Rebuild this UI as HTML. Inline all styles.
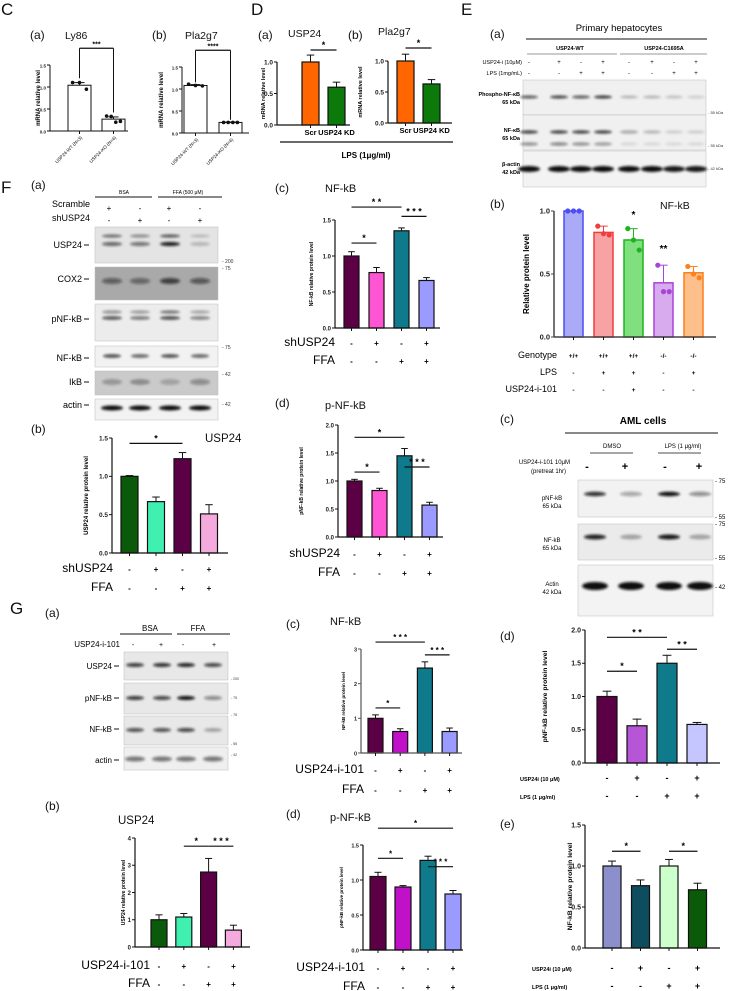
<!DOCTYPE html>
<html><head><meta charset="utf-8"><style>
html,body{margin:0;padding:0;background:#fff;}
svg{display:block;font-family:"Liberation Sans",sans-serif;}
</style></head><body>
<svg id="fig" width="732" height="991" viewBox="0 0 732 991" xmlns="http://www.w3.org/2000/svg">
<defs>
<filter id="blur1" x="-50%" y="-200%" width="200%" height="500%"><feGaussianBlur stdDeviation="1.3"/></filter>
</defs>
<!-- Panel letters -->
<g font-size="17" fill="#111">
<text x="1" y="15">C</text><text x="251" y="15">D</text><text x="461" y="15">E</text>
<text x="1" y="193">F</text><text x="10" y="614">G</text>
</g>
<g font-size="12" fill="#111">
<text x="30" y="39">(a)</text><text x="152" y="39">(b)</text>
<text x="258" y="39">(a)</text><text x="348" y="39">(b)</text>
<text x="490" y="38">(a)</text><text x="490" y="208">(b)</text><text x="500" y="423">(c)</text>
<text x="500" y="640">(d)</text><text x="500" y="828">(e)</text>
<text x="31" y="189">(a)</text><text x="31" y="433">(b)</text><text x="275" y="192">(c)</text><text x="275" y="407">(d)</text>
<text x="45" y="617">(a)</text><text x="45" y="810">(b)</text><text x="286" y="628">(c)</text><text x="286" y="818">(d)</text>
</g>
<g font-size="10.5" fill="#111">
<text x="65" y="39">Ly86</text><text x="185" y="39">Pla2g7</text>
<text x="288" y="37">USP24</text><text x="378" y="35">Pla2g7</text>
<text x="660" y="209">NF-kB</text>
<text x="205" y="442" font-size="11.5">USP24</text>
<text x="325" y="192" font-size="11">NF-kB</text><text x="325" y="409" font-size="11">p-NF-kB</text>
<text x="118" y="824" font-size="11.5">USP24</text>
<text x="330" y="625" font-size="11">NF-kB</text><text x="330" y="821" font-size="11">p-NF-kB</text>
</g>
<!-- D LPS -->
<line x1="280" y1="142" x2="453" y2="142" stroke="#111" stroke-width="1.2"/>
<text x="366" y="158" font-size="8" font-weight="bold" text-anchor="middle">LPS (1μg/ml)</text>

<!-- E(a) header -->
<text x="619" y="31" font-size="9.5" text-anchor="middle">Primary hepatocytes</text>
<line x1="526" y1="39" x2="707" y2="39" stroke="#111" stroke-width="1"/>
<text x="570" y="50" font-size="5.5" font-weight="bold" text-anchor="middle">USP24-WT</text>
<text x="664" y="50" font-size="5.5" font-weight="bold" text-anchor="middle">USP24-C1695A</text>
<line x1="527" y1="54" x2="617" y2="54" stroke="#999" stroke-width="1"/>
<line x1="620" y1="54" x2="707" y2="54" stroke="#999" stroke-width="1"/>
<text x="522" y="64" font-size="5.5" text-anchor="end">USP24-i (10μM)</text>
<text x="522" y="75" font-size="5.5" text-anchor="end">LPS (1mg/mL)</text>
<text x="520" y="96" font-size="5.5" font-weight="bold" text-anchor="end">Phospho-NF-κB</text>
<text x="520" y="104" font-size="5.5" font-weight="bold" text-anchor="end">65 kDa</text>
<text x="520" y="132" font-size="5.5" font-weight="bold" text-anchor="end">NF-κB</text>
<text x="520" y="140" font-size="5.5" font-weight="bold" text-anchor="end">65 kDa</text>
<text x="520" y="166" font-size="5.5" font-weight="bold" text-anchor="end">β-actin</text>
<text x="520" y="174" font-size="5.5" font-weight="bold" text-anchor="end">42 kDa</text>
<g font-size="4" fill="#333"><text x="708" y="114">- 55 kDa</text><text x="708" y="147">- 55 kDa</text><text x="708" y="170">- 42 kDa</text></g>

<!-- E(c) header -->
<text x="643" y="424" font-size="10" font-weight="bold" text-anchor="middle">AML cells</text>
<line x1="565" y1="433" x2="718" y2="433" stroke="#111" stroke-width="1"/>
<text x="612" y="448" font-size="6" text-anchor="middle">DMSO</text>
<text x="683" y="448" font-size="6" text-anchor="middle">LPS (1 μg/ml)</text>
<line x1="590" y1="453" x2="633" y2="453" stroke="#111" stroke-width="0.8"/>
<line x1="658" y1="453" x2="701" y2="453" stroke="#111" stroke-width="0.8"/>
<text x="570" y="464" font-size="6" text-anchor="end">USP24-i-101 10μM</text>
<text x="566" y="473" font-size="6" text-anchor="end">(pretreat 1hr)</text>
<g font-size="11" font-weight="bold" text-anchor="middle"><text x="587" y="470">-</text><text x="625" y="470">+</text><text x="665" y="470">-</text><text x="699" y="470">+</text></g>
<g font-size="6" text-anchor="middle"><text x="552" y="500">pNF-kB</text><text x="552" y="508">65 kDa</text><text x="552" y="542">NF-kB</text><text x="552" y="550">65 kDa</text><text x="552" y="586">Actin</text><text x="552" y="594">42 kDa</text></g>
<g font-size="6"><text x="715" y="483">- 75</text><text x="715" y="519">- 55</text><text x="715" y="526">- 75</text><text x="715" y="560">- 55</text><text x="715" y="589">- 42</text></g>

<!-- F(a) header -->
<text x="124" y="194" font-size="5" text-anchor="middle">BSA</text>
<text x="188" y="194" font-size="5" text-anchor="middle">FFA (500 μM)</text>
<line x1="95" y1="197" x2="152" y2="197" stroke="#111" stroke-width="1"/>
<line x1="158" y1="197" x2="222" y2="197" stroke="#111" stroke-width="1"/>
<g font-size="9" text-anchor="end"><text x="90" y="207">Scramble</text><text x="90" y="221">shUSP24</text>
<text x="82" y="248">USP24</text><text x="82" y="282">COX2</text><text x="82" y="322">pNF-kB</text><text x="82" y="361">NF-kB</text><text x="82" y="385">IkB</text><text x="82" y="408">actin</text></g>
<g stroke="#111" stroke-width="1"><line x1="84" y1="245" x2="89" y2="245"/><line x1="84" y1="279" x2="89" y2="279"/><line x1="84" y1="319" x2="89" y2="319"/><line x1="84" y1="358" x2="89" y2="358"/><line x1="84" y1="382" x2="89" y2="382"/><line x1="84" y1="405" x2="89" y2="405"/></g>
<g font-size="8" text-anchor="middle"><text x="109" y="211">+</text><text x="140" y="211">-</text><text x="169" y="211">+</text><text x="200" y="211">-</text>
<text x="109" y="223">-</text><text x="140" y="223">+</text><text x="169" y="223">-</text><text x="200" y="223">+</text></g>
<g font-size="5" fill="#333"><text x="222" y="263">- 200</text><text x="222" y="270">- 75</text><text x="222" y="349">- 75</text><text x="222" y="376">- 42</text><text x="222" y="406">- 42</text></g>

<!-- G(a) header -->
<text x="150" y="631" font-size="8" text-anchor="middle">BSA</text>
<text x="198" y="631" font-size="8" text-anchor="middle">FFA</text>
<line x1="120" y1="634" x2="172" y2="634" stroke="#111" stroke-width="1"/>
<line x1="177" y1="634" x2="230" y2="634" stroke="#111" stroke-width="1"/>
<g font-size="8" text-anchor="end"><text x="120" y="647">USP24-i-101</text><text x="112" y="669">USP24</text><text x="112" y="701">pNF-kB</text><text x="112" y="732">NF-kB</text><text x="112" y="763">actin</text></g>
<g stroke="#111" stroke-width="1"><line x1="114" y1="666" x2="119" y2="666"/><line x1="114" y1="698" x2="119" y2="698"/><line x1="114" y1="729" x2="119" y2="729"/><line x1="114" y1="760" x2="119" y2="760"/></g>
<g font-size="7" text-anchor="middle"><text x="133" y="647">-</text><text x="161" y="647">+</text><text x="183" y="647">-</text><text x="214" y="647">+</text></g>
<g font-size="3.5" fill="#333"><text x="231" y="680">- 200</text><text x="231" y="699">- 75</text><text x="231" y="716">- 75</text><text x="231" y="745">- 55</text><text x="231" y="756">- 42</text></g>
</svg>
<script>
const NS='http://www.w3.org/2000/svg';
const svg=document.getElementById('fig');
function mk(tag,attrs,parent){const e=document.createElementNS(NS,tag);for(const k in attrs)e.setAttribute(k,attrs[k]);(parent||svg).appendChild(e);return e;}

/* ===== DATA ===== */
// C(a) Ly86
const ca_cats=['USP24-WT (N=3)','USP24-KO (N=4)'];
const ca_vals=[1.04,0.27];
const ca_err=[0.06,0.05];
const ca_dots=[[1.1,1.1,0.95],[0.34,0.33,0.2,0.22]];
const ca_ticks=[0,0.5,1.0,1.5];
const ca_tickLabels=['0.0','0.5','1.0','1.5'];
// C(b) Pla2g7
const cb_cats=['USP24-WT (N=3)','USP24-KO (N=4)'];
const cb_vals=[1.08,0.24];
const cb_err=[0.02,0.01];
const cb_dots=[[1.11,1.08,1.07],[0.24,0.24,0.24,0.24]];
const cb_ticks=[0,0.5,1.0,1.5];
const cb_tickLabels=['0.0','0.5','1.0','1.5'];
// D(a) USP24
const da_cats=['Scr','USP24 KD'];
const da_vals=[1.0,0.6];
const da_err=[0.11,0.08];
const da_ticks=[0,0.5,1.0];
const da_tickLabels=['0.0','0.5','1.0'];
// D(b) Pla2g7
const db_cats=['Scr','USP24 KD'];
const db_vals=[1.0,0.63];
const db_err=[0.11,0.07];
const db_ticks=[0,0.5,1.0];
const db_tickLabels=['0.0','0.5','1.0'];
// E(b) NF-kB
const eb_vals=[1.0,0.83,0.77,0.43,0.51];
const eb_err=[0,0.05,0.09,0.14,0.05];
const eb_dots=[[1.0,1.0,1.0],[0.88,0.82,0.81],[0.86,0.77,0.69],[0.57,0.36,0.36],[0.56,0.5,0.47]];
const eb_ticks=[0,0.5,1.0];
const eb_tickLabels=['0.0','0.5','1.0'];
const eb_genotype=['+/+','+/+','+/+','-/-','-/-'];
const eb_lps=['-','+','+','-','+'];
const eb_inh=['-','-','+','-','-'];
// E(d) pNF-kB AML
const ed_vals=[1.0,0.56,1.5,0.58];
const ed_err=[0.08,0.1,0.12,0.03];
const ed_ticks=[0,0.5,1.0,1.5,2.0];
const ed_tickLabels=['0.0','0.5','1.0','1.5','2.0'];
const ed_inh=['-','+','-','+'];
const ed_lps=['-','-','+','+'];
// E(e) NF-kB AML
const ee_vals=[1.0,0.76,1.0,0.71];
const ee_err=[0.06,0.07,0.08,0.08];
const ee_ticks=[0,0.5,1.0,1.5];
const ee_tickLabels=['0.0','0.5','1.0','1.5'];
const ee_inh=['-','+','-','+'];
const ee_lps=['-','-','+','+'];
// F(b) USP24
const fb_vals=[1.0,0.67,1.23,0.51];
const fb_err=[0.01,0.06,0.08,0.12];
const fb_ticks=[0,0.5,1.0,1.5];
const fb_tickLabels=['0.0','0.5','1.0','1.5'];
const fb_sh=['-','+','-','+'];
const fb_ffa=['-','-','+','+'];
// F(c) NF-kB
const fc_vals=[1.0,0.77,1.35,0.66];
const fc_err=[0.06,0.07,0.04,0.04];
const fc_ticks=[0,0.5,1.0,1.5];
const fc_tickLabels=['0.0','0.5','1.0','1.5'];
const fc_sh=['-','+','-','+'];
const fc_ffa=['-','-','+','+'];
// F(d) p-NF-kB
const fd_vals=[1.0,0.83,1.45,0.57];
const fd_err=[0.03,0.04,0.13,0.05];
const fd_ticks=[0,0.5,1.0,1.5,2.0];
const fd_tickLabels=['0.0','0.5','1.0','1.5','2.0'];
const fd_sh=['-','+','-','+'];
const fd_ffa=['-','-','+','+'];
// G(b) USP24
const gb_vals=[1.0,1.1,2.75,0.62];
const gb_err=[0.18,0.13,0.5,0.18];
const gb_ticks=[0,1,2,3,4];
const gb_tickLabels=['0','1','2','3','4'];
const gb_inh=['-','+','-','+'];
const gb_ffa=['-','-','+','+'];
// G(c) NF-kB
const gc_vals=[1.0,0.62,2.45,0.62];
const gc_err=[0.1,0.08,0.18,0.1];
const gc_ticks=[0,1,2,3];
const gc_tickLabels=['0','1','2','3'];
const gc_inh=['-','+','-','+'];
const gc_ffa=['-','-','+','+'];
// G(d) p-NF-kB
const gd_vals=[1.05,0.9,1.28,0.8];
const gd_err=[0.06,0.02,0.06,0.05];
const gd_ticks=[0,0.5,1.0,1.5];
const gd_tickLabels=['0.0','0.5','1.0','1.5'];
const gd_inh=['-','+','-','+'];
const gd_ffa=['-','-','+','+'];

/* ===== CHART DRAWING ===== */
function chart(c){
  const g=mk('g',{});
  
  
  const vmax=c.ticks[c.ticks.length-1];
  const Y=v=>c.y0-v/vmax*(c.y0-c.yTop);
  const X=i=>c.bx+i*c.step;
  const cx=i=>X(i)+c.bw/2;
  const sw=c.sw||1.2;
  // bars
  c.vals.forEach((v,i)=>{
    const r=mk('rect',{x:X(i),y:Y(v),width:c.bw,height:c.y0-Y(v),fill:c.fills[i],stroke:c.strokes?c.strokes[i]:'#111','stroke-width':sw},g);
    
    
    const e=c.errs[i];
    if(e>0){
      const col=c.strokes?c.strokes[i]:'#111';
      mk('line',{x1:cx(i),y1:Y(v),x2:cx(i),y2:Y(v+e),stroke:col,'stroke-width':1},g);
      mk('line',{x1:cx(i)-c.bw*0.22,y1:Y(v+e),x2:cx(i)+c.bw*0.22,y2:Y(v+e),stroke:col,'stroke-width':1},g);
    }
    if(c.dots){
      c.dots[i].forEach((d,k)=>{
        const n=c.dots[i].length;
        const off=(k-(n-1)/2)*(c.bw*0.6/(Math.max(n-1,1)));
        const p=mk('circle',{cx:cx(i)+off,cy:Y(d),r:c.dotR||2,fill:c.dotFill?c.dotFill[i]:'#111'},g);
        
        
      });
    }
  });
  // axes
  mk('line',{x1:c.axisX,y1:c.y0,x2:c.axisX,y2:c.yTop,stroke:c.axisCol||'#111','stroke-width':c.axW||1.2},g);
  mk('line',{x1:c.axisX,y1:c.y0,x2:c.axisEnd,y2:c.y0,stroke:c.axisCol||'#111','stroke-width':c.axW||1.2},g);
  c.ticks.forEach((t,k)=>{
    mk('line',{x1:c.axisX-3,y1:Y(t),x2:c.axisX,y2:Y(t),stroke:c.axisCol||'#111','stroke-width':1},g);
    const tl=mk('text',{x:c.axisX-4,y:Y(t)+2.3,'font-size':c.tfs||6.5,'font-weight':'bold','text-anchor':'end',fill:'#222'},g);
    tl.textContent=c.tickLabels[k];
    
    
  });
  c.vals.forEach((v,i)=>{mk('line',{x1:cx(i),y1:c.y0,x2:cx(i),y2:c.y0+3,stroke:'#111','stroke-width':1},g);});
  // y label
  const yl=mk('text',{x:0,y:0,'font-size':c.ylfs||6,'font-weight':'bold','text-anchor':'middle',transform:`translate(${c.ylx},${(c.y0+c.yTop)/2}) rotate(-90)`},g);
  yl.textContent=c.ylabel;
  
  
  // significance
  (c.sigs||[]).forEach(s=>{
    const [i,j,val,lab,di,dj]=s;
    const yy=Y(val);
    if(i!==j){
      const x1=cx(i),x2=cx(j);
      mk('line',{x1:x1,y1:yy,x2:x2,y2:yy,stroke:'#111','stroke-width':1.2},g);
      if(di!==undefined){mk('line',{x1:x1,y1:yy,x2:x1,y2:Y(di),stroke:'#111','stroke-width':1},g);mk('line',{x1:x2,y1:yy,x2:x2,y2:Y(dj),stroke:'#111','stroke-width':1},g);}
    }
    const st=mk('text',{x:(cx(i)+cx(j))/2,y:yy-2,'font-size':c.sfs||8,'text-anchor':'middle','font-weight':'bold'},g);
    st.textContent=lab;
    
    
  });
  // category labels
  if(c.cats){
    c.cats.forEach((t,i)=>{
      let tx;
      if(c.rotCats){
        tx=mk('text',{x:0,y:0,'font-size':4.6,'text-anchor':'end',transform:`translate(${cx(i)+3},${c.y0+7}) rotate(-45)`},g);
      }else{
        tx=mk('text',{x:cx(i),y:c.y0+10,'font-size':7.5,'font-weight':'bold','text-anchor':'middle'},g);
      }
      tx.textContent=t;
      
      
    });
  }
  // condition rows
  if(c.rows){
    c.rows.forEach((r,k)=>{
      const lt=mk('text',{x:c.rowLabelX,y:c.rowYs[k],'font-size':c.rlfs||11,'text-anchor':c.rowAnchor||'end','font-weight':c.rlBold?'bold':'normal'},g);
      lt.textContent=r.label;
      
      
      r.signs.forEach((s,i)=>{
        const t=mk('text',{x:cx(i),y:c.rowYs[k],'font-size':c.sgfs||10,'text-anchor':'middle','font-weight':'bold'},g);
        t.textContent=s;
        
        
      });
    });
  }
}

chart({name:'chart-c-a-ly86',vals:ca_vals,errs:ca_err,dots:ca_dots,ticks:ca_ticks,tickLabels:ca_tickLabels,cats:ca_cats,rotCats:true,
  axisX:50,y0:131,yTop:65,bx:68,bw:23,step:34,axisEnd:128,fills:['#fff','#fff'],sw:1,axW:1,tfs:4.5,dotR:1.8,
  ylabel:'mRNA relative level',ylx:40,ylfs:6,sfs:7,sigs:[[0,1,1.88,'***',1.2,0.42]]});
chart({name:'chart-c-b-pla2g7',vals:cb_vals,errs:cb_err,dots:cb_dots,ticks:cb_ticks,tickLabels:cb_tickLabels,cats:cb_cats,rotCats:true,
  axisX:182,y0:133,yTop:67,bx:184,bw:23,step:35,axisEnd:249,fills:['#fff','#fff'],sw:1,axW:1,tfs:4.5,dotR:1.8,
  ylabel:'mRNA relative level',ylx:163,ylfs:6,sfs:7,sigs:[[0,1,1.88,'****',1.15,0.3]]});
chart({name:'chart-d-a-usp24',vals:da_vals,errs:da_err,ticks:da_ticks,tickLabels:da_tickLabels,cats:da_cats,
  axisX:277,y0:125,yTop:62,bx:302,bw:17,step:26,axisEnd:350,fills:['#ff6600','#0b7a0b'],tfs:6.5,
  ylabel:'mRNA relative level',ylx:265,ylfs:5.5,sfs:9,sigs:[[0,1,1.19,'*']]});
chart({name:'chart-d-b-pla2g7',vals:db_vals,errs:db_err,ticks:db_ticks,tickLabels:db_tickLabels,cats:db_cats,
  axisX:388,y0:123,yTop:61,bx:397,bw:17,step:26,axisEnd:452,fills:['#ff6600','#0b7a0b'],tfs:6.5,
  ylabel:'mRNA relative level',ylx:362,ylfs:5.5,sfs:9,sigs:[[0,1,1.21,'*']]});
chart({name:'chart-e-b-nfkb',vals:eb_vals,errs:eb_err,dots:eb_dots,ticks:eb_ticks,tickLabels:eb_tickLabels,
  axisX:554,y0:337,yTop:211,bx:564,bw:19,step:30,axisEnd:716,
  fills:['#a9abf7','#f7a3a3','#80e080','#d8abee','#fdc08c'],strokes:['#4d4df5','#f03c3c','#1fb31f','#a845d8','#ff7f1a'],
  dotFill:['#4d4df5','#f03c3c','#1fb31f','#a845d8','#ff7f1a'],dotR:2.6,sw:1.5,axisCol:'#444',axW:1.5,tfs:7.5,
  ylabel:'Relative protein level',ylx:529,ylfs:8,sfs:10,sigs:[[2,2,0.93,'*'],[3,3,0.66,'**']],
  rows:[{label:'Genotype',signs:eb_genotype},{label:'LPS',signs:eb_lps},{label:'USP24-i-101',signs:eb_inh}],
  rowLabelX:557,rowYs:[358,375,392],rlfs:9,sgfs:6.5});
chart({name:'chart-e-d-pnfkb',vals:ed_vals,errs:ed_err,ticks:ed_ticks,tickLabels:ed_tickLabels,
  axisX:585,y0:763,yTop:630,bx:597,bw:20,step:30,axisEnd:720,
  fills:['#5c0045','#b655d5','#0e7a8c','#c5c5ff'],tfs:7,
  ylabel:'pNF-kB relative protein level',ylx:547,ylfs:6.8,sfs:9,sigs:[[0,2,1.89,'* *'],[2,3,1.71,'* *'],[0,1,1.38,'*']],
  rows:[{label:'USP24i (10 μM)',signs:ed_inh},{label:'LPS (1 μg/ml)',signs:ed_lps}],
  rowLabelX:520,rowAnchor:'start',rowYs:[781,799],rlfs:5.5,rlBold:true,sgfs:9});
chart({name:'chart-e-e-nfkb',vals:ee_vals,errs:ee_err,ticks:ee_ticks,tickLabels:ee_tickLabels,
  axisX:585,y0:948,yTop:825,bx:603,bw:18,step:28.5,axisEnd:720,
  fills:['#8b90cc','#0d4d5e','#ccffcc','#0a5a0a'],tfs:7,
  ylabel:'NF-kB relative protein level',ylx:572,ylfs:6.8,sfs:9,sigs:[[0,1,1.18,'*'],[2,3,1.18,'*']],
  rows:[{label:'USP24i (10 μM)',signs:ee_inh},{label:'LPS (1 μg/ml)',signs:ee_lps}],
  rowLabelX:532,rowAnchor:'start',rowYs:[971,989],rlfs:5.5,rlBold:true,sgfs:9});
chart({name:'chart-f-b-usp24',vals:fb_vals,errs:fb_err,ticks:fb_ticks,tickLabels:fb_tickLabels,
  axisX:112,y0:553,yTop:438,bx:121,bw:17,step:26.5,axisEnd:228,
  fills:['#0b5a0b','#3ff0b0','#5c0045','#f5aade'],tfs:6.5,
  ylabel:'USP24 relative protein level',ylx:88,ylfs:6,sfs:9,sigs:[[0,2,1.43,'*']],
  rows:[{label:'shUSP24',signs:fb_sh},{label:'FFA',signs:fb_ffa}],
  rowLabelX:113,rowYs:[572,591],rlfs:12,sgfs:8});
chart({name:'chart-f-c-nfkb',vals:fc_vals,errs:fc_err,ticks:fc_ticks,tickLabels:fc_tickLabels,
  axisX:335,y0:328,yTop:220,bx:344,bw:15,step:25,axisEnd:440,
  fills:['#5c0045','#ff55d5','#0e7a8c','#9a9aff'],tfs:6,
  ylabel:'NF-kB relative protein level',ylx:313,ylfs:5,sfs:9,sigs:[[0,2,1.68,'* *'],[2,3,1.55,'* * *'],[0,1,1.18,'*']],
  rows:[{label:'shUSP24',signs:fc_sh},{label:'FFA',signs:fc_ffa}],
  rowLabelX:335,rowYs:[346,364],rlfs:12,sgfs:8});
chart({name:'chart-f-d-pnfkb',vals:fd_vals,errs:fd_err,ticks:fd_ticks,tickLabels:fd_tickLabels,
  axisX:338,y0:537,yTop:425,bx:347,bw:15,step:25,axisEnd:443,
  fills:['#5c0045','#ff55d5','#0e7a8c','#9a9aff'],tfs:6,
  ylabel:'pNF-kB relative protein level',ylx:303,ylfs:5,sfs:9,sigs:[[0,2,1.78,'*'],[2,3,1.25,'* * *'],[0,1,1.16,'*']],
  rows:[{label:'shUSP24',signs:fd_sh},{label:'FFA',signs:fd_ffa}],
  rowLabelX:340,rowYs:[557,576],rlfs:12,sgfs:8});
chart({name:'chart-g-b-usp24',vals:gb_vals,errs:gb_err,ticks:gb_ticks,tickLabels:gb_tickLabels,
  axisX:135,y0:947,yTop:838,bx:151,bw:16,step:24.8,axisEnd:250,
  fills:['#0b5a0b','#3ff0b0','#5c0045','#f5aade'],tfs:6,
  ylabel:'USP24 relative protein level',ylx:125,ylfs:5,sfs:9,sigs:[[1,2,3.7,'*'],[2,3,3.7,'* * *']],
  rows:[{label:'USP24-i-101',signs:gb_inh},{label:'FFA',signs:gb_ffa}],
  rowLabelX:150,rowYs:[969,987],rlfs:12,sgfs:8});
chart({name:'chart-g-c-nfkb',vals:gc_vals,errs:gc_err,ticks:gc_ticks,tickLabels:gc_tickLabels,
  axisX:361,y0:753,yTop:649,bx:368,bw:15,step:24.7,axisEnd:462,
  fills:['#5c0045','#c010c8','#0e7a8c','#9a9aff'],tfs:5.5,axisCol:'#555',
  ylabel:'NF-kB relative protein level',ylx:345,ylfs:4.5,sfs:8,sigs:[[0,2,3.2,'* * *'],[2,3,2.83,'* * *'],[0,1,1.3,'*']],
  rows:[{label:'USP24-i-101',signs:gc_inh},{label:'FFA',signs:gc_ffa}],
  rowLabelX:364,rowYs:[773,793],rlfs:12,sgfs:8});
chart({name:'chart-g-d-pnfkb',vals:gd_vals,errs:gd_err,ticks:gd_ticks,tickLabels:gd_tickLabels,
  axisX:363,y0:950,yTop:845,bx:370,bw:16,step:25,axisEnd:463,
  fills:['#5c0045','#c010c8','#0e7a8c','#9a9aff'],tfs:5.5,
  ylabel:'pNF-kB relative protein level',ylx:343,ylfs:4.5,sfs:8,sigs:[[0,3,1.74,'*'],[2,3,1.19,'* * *'],[0,1,1.31,'*']],
  rows:[{label:'USP24-i-101',signs:gd_inh},{label:'FFA',signs:gd_ffa}],
  rowLabelX:365,rowYs:[971,990],rlfs:12,sgfs:8});

/* ===== WESTERN BLOTS ===== */
function blot(name,x,y,w,h,bg,lanes,bands){
  const g=mk('g',{});
  
  
  mk('rect',{x:x,y:y,width:w,height:h,fill:bg,stroke:'#bbb','stroke-width':0.5},g);
  bands.forEach(b=>{
    lanes.forEach((lx,i)=>{
      const op=b.ops[i];
      if(op>0)mk('ellipse',{cx:lx,cy:y+b.dy,rx:b.rx,ry:b.ry,fill:'#111','fill-opacity':op,filter:'url(#blur1)'},g);
    });
  });
}
// E(a)
const eaL=[529,559,581,603,629,652,674,696];
blot('blot-e-phospho-nfkb',523,80,183,35,'#f0f0f0',eaL,[{dy:17,rx:9,ry:1.5,ops:[0.7,0.8,0.7,0.85,0.25,0.25,0.2,0.15]}]);
blot('blot-e-nfkb',523,115,183,35,'#f0f0f0',eaL,[{dy:17,rx:9,ry:1.6,ops:[0.8,0.8,0.8,0.8,0.35,0.25,0.15,0.15]},{dy:29,rx:9,ry:1.6,ops:[0.45,0.5,0.45,0.4,0.1,0.1,0.1,0.1]}]);
blot('blot-e-actin',523,151,183,36,'#f3f3f3',eaL,[{dy:18,rx:11,ry:3,ops:[1,1,1,1,1,1,0.95,0.95]}]);
// E(c)
const ecL=[595,631,669,700];
blot('blot-ec-pnfkb',578,480,135,37,'#f2f2f2',ecL,[{dy:14,rx:11,ry:2.2,ops:[0.85,0.35,1,0.45]}]);
blot('blot-ec-nfkb',578,524,135,36,'#ebebeb',ecL,[{dy:13,rx:11,ry:2.5,ops:[0.9,0.3,0.95,0.3]}]);
blot('blot-ec-actin',578,565,135,51,'#f3f3f3',ecL,[{dy:21,rx:13,ry:4,ops:[1,1,1,1]}]);
// F(a)
const faL=[112,140,170,200];
blot('blot-f-usp24',95,227,123,36,'#e4e4e4',faL,[{dy:9,rx:10,ry:1.5,ops:[0.6,0.45,0.7,0.2]},{dy:17,rx:10,ry:2,ops:[0.6,0.55,0.95,0.2]}]);
blot('blot-f-cox2',95,267,123,33,'#a9a9a9',faL,[{dy:14,rx:10,ry:3,ops:[0.5,0.45,0.7,0.55]}]);
blot('blot-f-pnfkb',95,304,123,37,'#ececec',faL,[{dy:8,rx:10,ry:1.5,ops:[0.45,0.4,0.6,0.35]},{dy:14,rx:10,ry:1.8,ops:[0.7,0.55,0.75,0.5]}]);
blot('blot-f-nfkb',95,346,123,21,'#f2f2f2',faL,[{dy:10,rx:9,ry:1.8,ops:[0.75,0.65,0.75,0.65]}]);
blot('blot-f-ikb',95,371,123,24,'#cacaca',faL,[{dy:11,rx:10,ry:3,ops:[0.25,0.3,0.2,0.35]}]);
blot('blot-f-actin',95,399,123,21,'#f2f2f2',faL,[{dy:9,rx:11,ry:2.5,ops:[1,1,1,1]}]);
// G(a)
const gaL=[135,162,186,213];
blot('blot-g-usp24',124,652,104,28,'#e8e8e8',gaL,[{dy:13,rx:9,ry:2,ops:[0.8,0.85,0.9,0.75]}]);
blot('blot-g-pnfkb',124,683,104,31,'#e8e8e8',gaL,[{dy:15,rx:9,ry:2,ops:[0.8,0.75,1,0.45]}]);
blot('blot-g-nfkb',124,716,104,29,'#e8e8e8',gaL,[{dy:14,rx:9,ry:2,ops:[0.7,0.7,0.75,0.3]}]);
blot('blot-g-actin',124,747,104,23,'#efefef',gaL,[{dy:12,rx:10,ry:2.5,ops:[0.55,0.55,0.55,0.55]}]);

// E(a) sign rows
const ea_inh=['-','+','-','+','-','+','-','+'];
const ea_lps=['-','-','+','+','-','-','+','+'];
[ea_inh,ea_lps].forEach((arr,k)=>{
  arr.forEach((s,i)=>{
    const t=mk('text',{x:eaL[i],y:[64,75][k],'font-size':6,'text-anchor':'middle'});
    t.textContent=s;
    
    
  });
});
</script>
</body></html>
